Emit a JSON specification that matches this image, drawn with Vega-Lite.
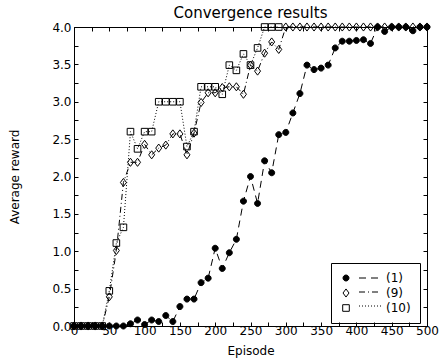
{
  "$schema": "https://vega.github.io/schema/vega-lite/v6.json",
  "width": 353,
  "height": 299,
  "autosize": {"type": "none"},
  "padding": {"left": 74, "top": 27, "right": 14, "bottom": 38},
  "background": "white",
  "title": {"text": "Convergence results", "fontSize": 15, "font": "DejaVu Sans", "fontWeight": "normal", "color": "black", "anchor": "middle", "offset": 0},
  "config": {
    "view": {"stroke": "black", "strokeWidth": 1},
    "axis": {"grid": false, "domainColor": "black", "tickColor": "black", "labelColor": "black", "titleColor": "black", "labelFont": "DejaVu Sans", "titleFont": "DejaVu Sans", "labelFontSize": 12, "titleFontSize": 12, "titleFontWeight": "normal", "tickSize": -4, "labelOverlap": false, "labelFlush": false}
  },
  "data": {"values": [
    {"episode":0,"reward":0,"series":"(1)"},{"episode":10,"reward":0,"series":"(1)"},{"episode":20,"reward":0,"series":"(1)"},{"episode":30,"reward":0,"series":"(1)"},{"episode":40,"reward":0,"series":"(1)"},{"episode":50,"reward":0,"series":"(1)"},{"episode":60,"reward":0,"series":"(1)"},{"episode":70,"reward":0,"series":"(1)"},{"episode":80,"reward":0.03,"series":"(1)"},{"episode":90,"reward":0.08,"series":"(1)"},{"episode":100,"reward":0.02,"series":"(1)"},{"episode":110,"reward":0.08,"series":"(1)"},{"episode":120,"reward":0.06,"series":"(1)"},{"episode":130,"reward":0.14,"series":"(1)"},{"episode":140,"reward":0.06,"series":"(1)"},{"episode":150,"reward":0.26,"series":"(1)"},{"episode":160,"reward":0.36,"series":"(1)"},{"episode":170,"reward":0.36,"series":"(1)"},{"episode":180,"reward":0.58,"series":"(1)"},{"episode":190,"reward":0.64,"series":"(1)"},{"episode":200,"reward":1.04,"series":"(1)"},{"episode":210,"reward":0.77,"series":"(1)"},{"episode":220,"reward":0.98,"series":"(1)"},{"episode":230,"reward":1.16,"series":"(1)"},{"episode":240,"reward":1.67,"series":"(1)"},{"episode":250,"reward":2.0,"series":"(1)"},{"episode":260,"reward":1.64,"series":"(1)"},{"episode":270,"reward":2.21,"series":"(1)"},{"episode":280,"reward":2.05,"series":"(1)"},{"episode":290,"reward":2.56,"series":"(1)"},{"episode":300,"reward":2.59,"series":"(1)"},{"episode":310,"reward":2.85,"series":"(1)"},{"episode":320,"reward":3.11,"series":"(1)"},{"episode":330,"reward":3.49,"series":"(1)"},{"episode":340,"reward":3.43,"series":"(1)"},{"episode":350,"reward":3.45,"series":"(1)"},{"episode":360,"reward":3.49,"series":"(1)"},{"episode":370,"reward":3.72,"series":"(1)"},{"episode":380,"reward":3.81,"series":"(1)"},{"episode":390,"reward":3.81,"series":"(1)"},{"episode":400,"reward":3.82,"series":"(1)"},{"episode":410,"reward":3.83,"series":"(1)"},{"episode":420,"reward":3.78,"series":"(1)"},{"episode":430,"reward":4.0,"series":"(1)"},{"episode":440,"reward":3.94,"series":"(1)"},{"episode":450,"reward":4.0,"series":"(1)"},{"episode":460,"reward":4.0,"series":"(1)"},{"episode":470,"reward":4.0,"series":"(1)"},{"episode":480,"reward":3.95,"series":"(1)"},{"episode":490,"reward":4.0,"series":"(1)"},{"episode":500,"reward":4.0,"series":"(1)"},
    {"episode":0,"reward":0,"series":"(9)"},{"episode":10,"reward":0,"series":"(9)"},{"episode":20,"reward":0,"series":"(9)"},{"episode":30,"reward":0,"series":"(9)"},{"episode":40,"reward":0,"series":"(9)"},{"episode":50,"reward":0.39,"series":"(9)"},{"episode":60,"reward":1.01,"series":"(9)"},{"episode":70,"reward":1.92,"series":"(9)"},{"episode":80,"reward":2.19,"series":"(9)"},{"episode":90,"reward":2.19,"series":"(9)"},{"episode":100,"reward":2.43,"series":"(9)"},{"episode":110,"reward":2.29,"series":"(9)"},{"episode":120,"reward":2.38,"series":"(9)"},{"episode":130,"reward":2.42,"series":"(9)"},{"episode":140,"reward":2.57,"series":"(9)"},{"episode":150,"reward":2.57,"series":"(9)"},{"episode":160,"reward":2.29,"series":"(9)"},{"episode":170,"reward":2.58,"series":"(9)"},{"episode":180,"reward":2.99,"series":"(9)"},{"episode":190,"reward":3.12,"series":"(9)"},{"episode":200,"reward":3.12,"series":"(9)"},{"episode":210,"reward":3.19,"series":"(9)"},{"episode":220,"reward":3.2,"series":"(9)"},{"episode":230,"reward":3.2,"series":"(9)"},{"episode":240,"reward":3.1,"series":"(9)"},{"episode":250,"reward":3.49,"series":"(9)"},{"episode":260,"reward":3.41,"series":"(9)"},{"episode":270,"reward":3.65,"series":"(9)"},{"episode":280,"reward":3.8,"series":"(9)"},{"episode":290,"reward":3.7,"series":"(9)"},{"episode":300,"reward":4.0,"series":"(9)"},{"episode":310,"reward":4.0,"series":"(9)"},{"episode":320,"reward":4.0,"series":"(9)"},{"episode":330,"reward":4.0,"series":"(9)"},{"episode":340,"reward":4.0,"series":"(9)"},{"episode":350,"reward":4.0,"series":"(9)"},{"episode":360,"reward":4.0,"series":"(9)"},{"episode":370,"reward":4.0,"series":"(9)"},{"episode":380,"reward":4.0,"series":"(9)"},{"episode":390,"reward":4.0,"series":"(9)"},{"episode":400,"reward":4.0,"series":"(9)"},{"episode":410,"reward":4.0,"series":"(9)"},{"episode":420,"reward":4.0,"series":"(9)"},{"episode":430,"reward":4.0,"series":"(9)"},{"episode":440,"reward":4.0,"series":"(9)"},{"episode":450,"reward":4.0,"series":"(9)"},{"episode":460,"reward":4.0,"series":"(9)"},{"episode":470,"reward":4.0,"series":"(9)"},{"episode":480,"reward":4.0,"series":"(9)"},{"episode":490,"reward":4.0,"series":"(9)"},{"episode":500,"reward":4.0,"series":"(9)"},
    {"episode":0,"reward":0,"series":"(10)"},{"episode":10,"reward":0,"series":"(10)"},{"episode":20,"reward":0,"series":"(10)"},{"episode":30,"reward":0,"series":"(10)"},{"episode":40,"reward":0,"series":"(10)"},{"episode":50,"reward":0.47,"series":"(10)"},{"episode":60,"reward":1.11,"series":"(10)"},{"episode":70,"reward":1.32,"series":"(10)"},{"episode":80,"reward":2.6,"series":"(10)"},{"episode":90,"reward":2.37,"series":"(10)"},{"episode":100,"reward":2.6,"series":"(10)"},{"episode":110,"reward":2.6,"series":"(10)"},{"episode":120,"reward":3.0,"series":"(10)"},{"episode":130,"reward":3.0,"series":"(10)"},{"episode":140,"reward":3.0,"series":"(10)"},{"episode":150,"reward":3.0,"series":"(10)"},{"episode":160,"reward":2.4,"series":"(10)"},{"episode":170,"reward":2.6,"series":"(10)"},{"episode":180,"reward":3.2,"series":"(10)"},{"episode":190,"reward":3.2,"series":"(10)"},{"episode":200,"reward":3.2,"series":"(10)"},{"episode":210,"reward":3.1,"series":"(10)"},{"episode":220,"reward":3.49,"series":"(10)"},{"episode":230,"reward":3.42,"series":"(10)"},{"episode":240,"reward":3.64,"series":"(10)"},{"episode":250,"reward":3.49,"series":"(10)"},{"episode":260,"reward":3.72,"series":"(10)"},{"episode":270,"reward":4.0,"series":"(10)"},{"episode":280,"reward":4.0,"series":"(10)"},{"episode":290,"reward":4.0,"series":"(10)"}
  ]},
  "layer": [
    {
      "mark": {"type": "line", "color": "black", "strokeWidth": 1},
      "encoding": {
        "x": {"field": "episode", "type": "quantitative", "scale": {"domain": [0, 500], "nice": false, "zero": false},
          "axis": {"orient": "bottom", "values": [0,25,50,75,100,125,150,175,200,225,250,275,300,325,350,375,400,425,450,475,500], "labelExpr": "datum.value % 50 === 0 ? datum.label : ''", "format": "d", "labelPadding": 3, "title": "Episode", "titlePadding": 9}},
        "y": {"field": "reward", "type": "quantitative", "scale": {"domain": [0, 4], "nice": false},
          "axis": {"orient": "left", "values": [0,0.25,0.5,0.75,1,1.25,1.5,1.75,2,2.25,2.5,2.75,3,3.25,3.5,3.75,4], "labelExpr": "datum.value % 0.5 === 0 ? format(datum.value, '.1f') : ''", "labelPadding": 7, "title": "Average reward", "titlePadding": 30}},
        "strokeDash": {"field": "series", "type": "nominal", "sort": ["(1)", "(9)", "(10)"],
          "scale": {"range": [[7, 5], [6, 3, 1, 3], [1, 2]]},
          "legend": {"orient": "none", "legendX": 290, "legendY": 245, "title": null, "padding": 0, "symbolType": "M-2,0H2", "symbolSize": 121, "symbolStrokeColor": "black", "symbolStrokeWidth": 1, "symbolFillColor": "transparent", "labelExpr": "''", "labelFontSize": 12, "rowPadding": 2}}
      }
    },
    {
      "mark": {"type": "point", "filled": true, "stroke": "black", "strokeWidth": 1, "size": 36, "opacity": 1},
      "encoding": {
        "x": {"field": "episode", "type": "quantitative",
          "axis": {"orient": "top", "values": [0,25,50,75,100,125,150,175,200,225,250,275,300,325,350,375,400,425,450,475,500], "labels": false, "title": null, "domain": false}},
        "y": {"field": "reward", "type": "quantitative",
          "axis": {"orient": "right", "values": [0,0.25,0.5,0.75,1,1.25,1.5,1.75,2,2.25,2.5,2.75,3,3.25,3.5,3.75,4], "labels": false, "title": null, "domain": false}},
        "shape": {"field": "series", "type": "nominal",
          "scale": {"domain": ["(1)", "(9)", "(10)"], "range": ["M-1,0A1,1,0,1,0,1,0A1,1,0,1,0,-1,0Z", "M0,-1.35L1,0L0,1.35L-1,0Z", "M-1.1,-1.1H1.1V1.1H-1.1Z"]},
          "legend": {"orient": "none", "legendX": 257, "legendY": 236, "title": null, "strokeColor": "black", "padding": 9, "symbolStrokeColor": "black", "symbolStrokeWidth": 1, "symbolSize": 36, "symbolOpacity": 1, "labelOffset": 34, "labelFontSize": 12, "labelFont": "DejaVu Sans", "labelColor": "black", "rowPadding": 2,
            "encode": {"symbols": {"update": {"stroke": {"value": "black"}, "strokeWidth": {"value": 1}, "opacity": {"value": 1}}}}}},
        "fill": {"field": "series", "type": "nominal",
          "scale": {"domain": ["(1)", "(9)", "(10)"], "range": ["black", "transparent", "transparent"]},
          "legend": {"orient": "none", "legendX": 257, "legendY": 236, "title": null, "strokeColor": "black", "padding": 9, "symbolStrokeColor": "black", "symbolStrokeWidth": 1, "symbolSize": 36, "symbolOpacity": 1, "labelOffset": 34, "labelFontSize": 12, "labelFont": "DejaVu Sans", "labelColor": "black", "rowPadding": 2,
            "encode": {"symbols": {"update": {"stroke": {"value": "black"}, "strokeWidth": {"value": 1}, "opacity": {"value": 1}}}}}}
      }
    }
  ],
  "resolve": {"axis": {"x": "independent", "y": "independent"}}
}
